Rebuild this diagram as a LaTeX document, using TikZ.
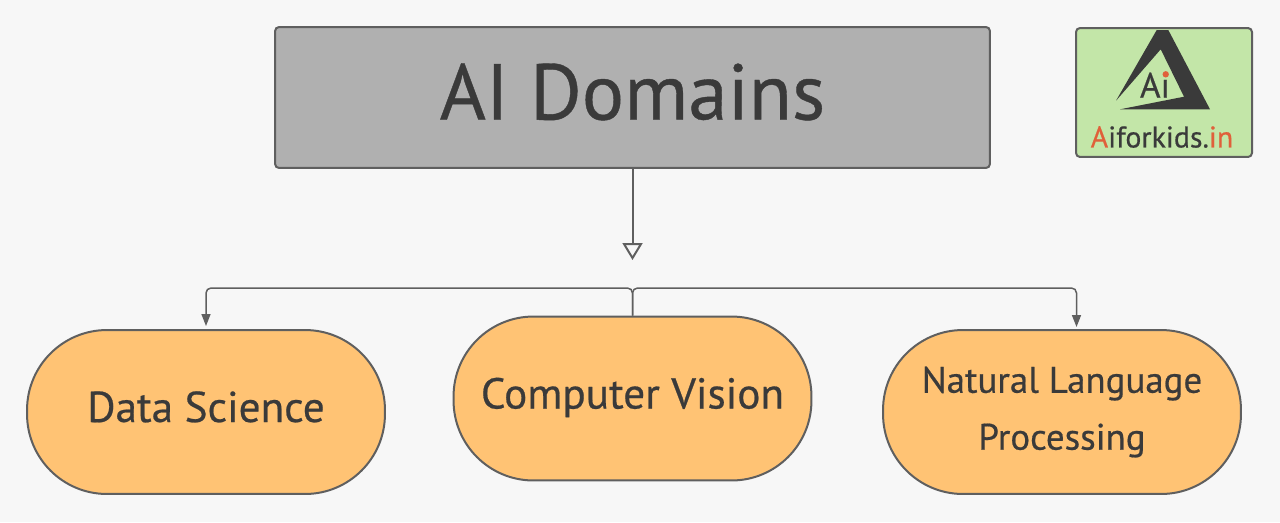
\documentclass[tikz,border=0pt]{standalone}
\usepackage{fontspec}
\setmainfont{PT Sans}[FakeBold=0.5]
\usetikzlibrary{arrows.meta}
\definecolor{pagegray}{HTML}{F7F7F7}
\definecolor{linegray}{HTML}{5F5F5F}
\definecolor{inkgray}{HTML}{3A3A3A}
\definecolor{titlegray}{HTML}{B0B0B0}
\definecolor{domainorange}{HTML}{FFC374}
\definecolor{logogreen}{HTML}{C3E6A8}
\definecolor{logored}{HTML}{E0603A}
\tikzset{
    titlebox/.style={draw=linegray,fill=titlegray,line width=0.04cm,rounded corners=0.08cm,
        minimum width=14.3cm,minimum height=2.82cm,text=inkgray,font=\fontsize{45}{50}\selectfont,
        text height=1.2cm,text depth=0.32cm},
    domainbox/.style={draw=linegray,fill=domainorange,line width=0.04cm,rounded corners=1.6cm,
        minimum width=7.16cm,minimum height=3.28cm,text=inkgray,align=center},
    singleline/.style={font=\fontsize{24.6}{28}\selectfont,text height=0.66cm,text depth=0.26cm},
    logobox/.style={draw=linegray,fill=logogreen,line width=0.04cm,rounded corners=0.08cm,
        minimum width=3.52cm,minimum height=2.58cm},
    trunk/.style={draw=linegray,line width=0.04cm,-{Triangle[open,length=0.34cm,width=0.4cm]}},
    branch/.style={draw=linegray,line width=0.03cm,rounded corners=0.1cm,
        -{Triangle[length=0.24cm,width=0.18cm]},shorten >=0.06cm}
}
\begin{document}
\begin{tikzpicture}[x=0.02cm,y=-0.02cm]
    \useasboundingbox (0,0) rectangle (1280,522);
    \fill[pagegray] (0,0) rectangle (1280,522);

    % nodes
    \node[titlebox] (title) at (632.5,97.5) {AI Domains};
    \node[domainbox,singleline] (ds) at (206,412) {Data Science};
    \node[domainbox,singleline] (cv) at (632.5,398.5) {Computer Vision};
    \node[domainbox,font=\fontsize{21}{32.4}\selectfont] (nlp) at (1062,412) {Natural Language\\Processing};

    \coordinate (tipend) at (632.5,260);
    \coordinate (split) at (632.5,288);
    \coordinate (bendl) at (206,288);
    \coordinate (bendr) at (1076.5,288);
    \coordinate (nlptop) at (1076.5,330);

    % edges
    \draw[trunk] (title.south) -- (tipend);
    \draw[branch] (cv.north) -- (split) -- (bendl) -- (ds.north);
    \draw[branch] (cv.north) -- (split) -- (bendr) -- (nlptop);

    % logo
    \node[logobox] (logo) at (1164,92.5) {};
    \fill[inkgray] (1116,100.7) -- (1156.7,30) -- (1168.3,30) -- (1210,109.3) -- (1120,109.3)
        -- (1184,96.7) -- (1160.7,49.3) -- cycle;
    \node[text=inkgray,font=\fontsize{20}{22}\selectfont] (logoai) at (1155,85) {A\i};
    \fill[logored] (1165.7,74.3) circle (3.2);
    \node[text=inkgray,font=\fontsize{17}{20}\selectfont] (logoname) at (1162,137)
        {\textcolor{logored}{A}iforkids.\textcolor{logored}{in}};
\end{tikzpicture}
\end{document}
